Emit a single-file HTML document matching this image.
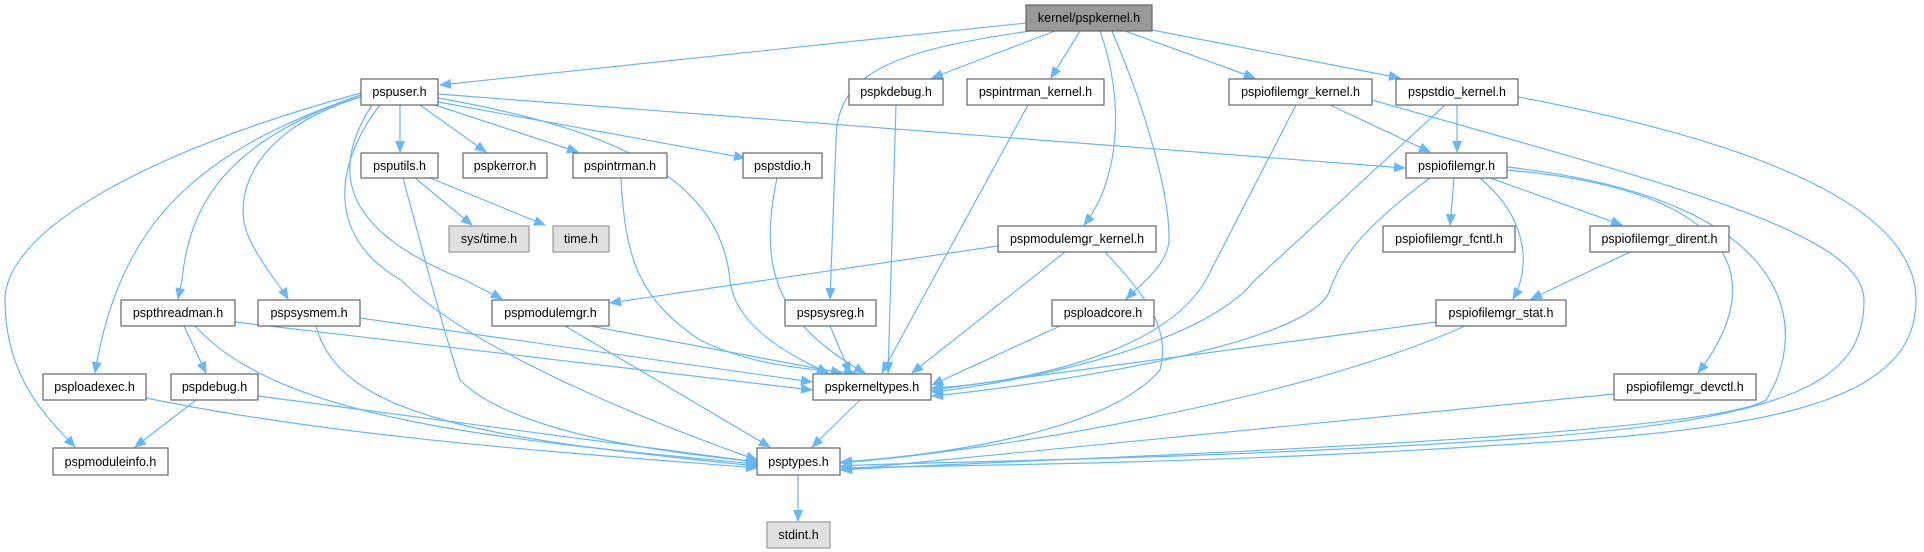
<!DOCTYPE html>
<html><head><meta charset="utf-8"><style>
html,body{margin:0;padding:0;background:#fff;}
svg{display:block;}
text{font-family:"Liberation Sans",Arial,sans-serif;font-size:12.5px;fill:#000;}
.e{fill:none;stroke:#63b8ff;stroke-width:1.2;}
.n{fill:#fff;stroke:#666;stroke-width:1.2;}
.g{fill:#e0e0e0;stroke:#999;stroke-width:1.2;}
</style></head><body>
<svg width="1924" height="552" viewBox="0 0 1924 552" xmlns="http://www.w3.org/2000/svg">
<defs><marker id="a" markerUnits="userSpaceOnUse" markerWidth="12" markerHeight="10" refX="11" refY="5" orient="auto"><path d="M0,0 L12,5 L0,10 z" fill="#63b8ff"/></marker></defs>
<g marker-end="url(#a)">
<path class="e" d="M1026,23 L440,85"/>
<path class="e" d="M1030,31 C900,50 836,70 836,140 L830,299"/>
<path class="e" d="M1055,31 L932,78"/>
<path class="e" d="M1080,31 L1051,78"/>
<path class="e" d="M1100,31 C1125,100 1120,180 1084,225"/>
<path class="e" d="M1112,31 C1150,120 1170,200 1169,240 C1168,265 1140,285 1126,299"/>
<path class="e" d="M1125,31 L1255,78"/>
<path class="e" d="M1152,30 L1400,78"/>
<path class="e" d="M400,105 L400,152"/>
<path class="e" d="M420,105 L486,152"/>
<path class="e" d="M435,105 L578,152"/>
<path class="e" d="M438,102 L745,158"/>
<path class="e" d="M438,94 L1405,168"/>
<path class="e" d="M438,98 C620,130 720,180 730,280 C735,330 800,360 828,373"/>
<path class="e" d="M380,105 C330,170 330,240 401,280 C480,360 700,440 757,460"/>
<path class="e" d="M372,105 C330,170 340,230 465,280 C480,288 495,295 502,299"/>
<path class="e" d="M361,97 C250,130 230,200 250,240 C265,270 280,285 288,299"/>
<path class="e" d="M361,95 C230,140 190,200 182,280 L178,299"/>
<path class="e" d="M361,95 C200,150 120,220 95,373"/>
<path class="e" d="M361,93 C150,150 5,230 5,300 C5,380 50,420 75,447"/>
<path class="e" d="M403,178 C420,240 440,320 460,380 C520,440 700,455 757,462"/>
<path class="e" d="M415,178 L472,225"/>
<path class="e" d="M430,178 L545,225"/>
<path class="e" d="M621,178 C625,260 640,300 700,340 C760,370 830,370 855,373"/>
<path class="e" d="M777,178 C760,260 770,320 865,373"/>
<path class="e" d="M896,105 L888,373"/>
<path class="e" d="M1028,105 L882,373"/>
<path class="e" d="M998,246 L610,303"/>
<path class="e" d="M1065,252 L912,373"/>
<path class="e" d="M1105,252 C1150,300 1170,330 1160,370 C1100,440 900,458 841,462"/>
<path class="e" d="M1296,105 L1206,280 C1160,360 1000,385 932,388"/>
<path class="e" d="M1330,105 L1430,152"/>
<path class="e" d="M1372,100 C1650,180 1864,230 1864,300 C1864,380 1800,420 1500,440 C1200,460 900,462 841,466"/>
<path class="e" d="M1518,97 C1800,150 1916,220 1916,300 C1916,400 1780,430 1500,445 C1200,465 900,466 841,468"/>
<path class="e" d="M1457,105 L1457,152"/>
<path class="e" d="M1445,105 L1255,280 C1200,350 1000,385 932,392"/>
<path class="e" d="M1454,178 L1450,225"/>
<path class="e" d="M1490,178 L1622,225"/>
<path class="e" d="M1480,178 C1530,220 1530,270 1513,299"/>
<path class="e" d="M1430,178 C1360,230 1340,260 1330,290 C1310,350 1000,390 932,396"/>
<path class="e" d="M1507,170 C1740,190 1770,280 1698,373"/>
<path class="e" d="M1507,167 C1800,200 1810,330 1766,400 C1700,440 1000,460 841,470"/>
<path class="e" d="M1630,252 L1531,299"/>
<path class="e" d="M1436,322 L932,390"/>
<path class="e" d="M1465,326 C1300,400 1000,450 841,463"/>
<path class="e" d="M1614,394 L841,470"/>
<path class="e" d="M1060,326 L932,385"/>
<path class="e" d="M830,326 L850,373"/>
<path class="e" d="M235,322 L812,390"/>
<path class="e" d="M360,318 L812,382"/>
<path class="e" d="M590,326 L842,373"/>
<path class="e" d="M565,326 L770,447"/>
<path class="e" d="M184,326 L206,373"/>
<path class="e" d="M195,326 C280,420 500,440 757,464"/>
<path class="e" d="M316,326 C340,420 500,440 757,466"/>
<path class="e" d="M146,398 C350,440 600,455 757,468"/>
<path class="e" d="M196,400 L135,447"/>
<path class="e" d="M258,396 L757,462"/>
<path class="e" d="M860,400 L812,447"/>
<path class="e" d="M798,475 L798,521"/>
</g>
<g>
<rect x="1026" y="5" width="126" height="26" fill="#999" stroke="#666" stroke-width="1.2"/><text x="1089" y="22" text-anchor="middle">kernel/pspkernel.h</text>
<rect class="n" x="361" y="79" width="77" height="26"/><text x="399.5" y="96" text-anchor="middle">pspuser.h</text>
<rect class="n" x="849" y="79" width="94" height="26"/><text x="896" y="96" text-anchor="middle">pspkdebug.h</text>
<rect class="n" x="967" y="79" width="137" height="26"/><text x="1035.5" y="96" text-anchor="middle">pspintrman_kernel.h</text>
<rect class="n" x="1229" y="79" width="143" height="26"/><text x="1300.5" y="96" text-anchor="middle">pspiofilemgr_kernel.h</text>
<rect class="n" x="1396" y="79" width="122" height="26"/><text x="1457" y="96" text-anchor="middle">pspstdio_kernel.h</text>
<rect class="n" x="361" y="153" width="77" height="25"/><text x="399.5" y="170" text-anchor="middle">psputils.h</text>
<rect class="n" x="463" y="153" width="84" height="25"/><text x="505" y="170" text-anchor="middle">pspkerror.h</text>
<rect class="n" x="573" y="153" width="94" height="25"/><text x="620" y="170" text-anchor="middle">pspintrman.h</text>
<rect class="n" x="743" y="153" width="79" height="25"/><text x="782.5" y="170" text-anchor="middle">pspstdio.h</text>
<rect class="n" x="1406" y="153" width="101" height="25"/><text x="1456.5" y="170" text-anchor="middle">pspiofilemgr.h</text>
<rect class="g" x="449" y="226" width="80" height="26"/><text x="489" y="243" text-anchor="middle">sys/time.h</text>
<rect class="g" x="553" y="226" width="56" height="26"/><text x="581" y="243" text-anchor="middle">time.h</text>
<rect class="n" x="998" y="226" width="158" height="26"/><text x="1077" y="243" text-anchor="middle">pspmodulemgr_kernel.h</text>
<rect class="n" x="1383" y="226" width="132" height="26"/><text x="1449" y="243" text-anchor="middle">pspiofilemgr_fcntl.h</text>
<rect class="n" x="1590" y="226" width="139" height="26"/><text x="1659.5" y="243" text-anchor="middle">pspiofilemgr_dirent.h</text>
<rect class="n" x="121" y="300" width="114" height="26"/><text x="178" y="317" text-anchor="middle">pspthreadman.h</text>
<rect class="n" x="258" y="300" width="102" height="26"/><text x="309" y="317" text-anchor="middle">pspsysmem.h</text>
<rect class="n" x="492" y="300" width="117" height="26"/><text x="550.5" y="317" text-anchor="middle">pspmodulemgr.h</text>
<rect class="n" x="785" y="300" width="91" height="26"/><text x="830.5" y="317" text-anchor="middle">pspsysreg.h</text>
<rect class="n" x="1052" y="300" width="102" height="26"/><text x="1103" y="317" text-anchor="middle">psploadcore.h</text>
<rect class="n" x="1436" y="300" width="130" height="26"/><text x="1501" y="317" text-anchor="middle">pspiofilemgr_stat.h</text>
<rect class="n" x="43" y="374" width="103" height="26"/><text x="94.5" y="391" text-anchor="middle">psploadexec.h</text>
<rect class="n" x="171" y="374" width="87" height="26"/><text x="214.5" y="391" text-anchor="middle">pspdebug.h</text>
<rect class="n" x="813" y="374" width="118" height="26"/><text x="872" y="391" text-anchor="middle">pspkerneltypes.h</text>
<rect class="n" x="1614" y="374" width="142" height="26"/><text x="1685" y="391" text-anchor="middle">pspiofilemgr_devctl.h</text>
<rect class="n" x="53" y="448" width="115" height="27"/><text x="110.5" y="466" text-anchor="middle">pspmoduleinfo.h</text>
<rect class="n" x="757" y="448" width="83" height="27"/><text x="798.5" y="466" text-anchor="middle">psptypes.h</text>
<rect class="g" x="767" y="522" width="63" height="26"/><text x="798.5" y="539" text-anchor="middle">stdint.h</text>
</g>
</svg>
</body></html>
